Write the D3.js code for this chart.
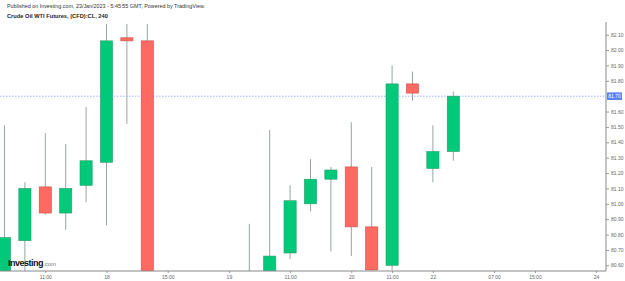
<!DOCTYPE html>
<html>
<head>
<meta charset="utf-8">
<script src="https://cdn.jsdelivr.net/npm/d3@7"></script>
<style>
  html, body { margin: 0; padding: 0; background: #fff; }
  svg { display: block; font-family: "Liberation Sans", Arial, sans-serif; }
</style>
</head>
<body>
<div id="chart"></div>
<script>
// 4h candles, slot index = position on the time axis
const slots  = [0, 1, 2, 3, 4, 5, 6, 7, 8, 9, 10, 11, 12, 13, 14, 15, 16, 17, 18, 19, 20, 21, 22];
const opens  = [80.50, 80.76, 81.11, 80.94, 81.12, 81.27, 82.08, 82.06, 80.45, 80.30, 80.20, 80.35, 80.40, 80.45, 80.68, 81.00, 81.16, 81.24, 80.85, 80.60, 81.78, 81.23, 81.34];
const highs  = [81.51, 81.14, 81.46, 81.39, 81.63, 82.17, 82.17, 82.17, 80.55, 80.50, 80.45, 80.50, 80.87, 81.48, 81.12, 81.29, 81.24, 81.53, 81.24, 81.90, 81.86, 81.51, 81.73];
const lows   = [80.40, 80.45, 80.93, 80.83, 81.01, 80.86, 81.52, 80.40, 80.20, 80.10, 80.10, 80.20, 80.35, 80.40, 80.64, 80.95, 80.69, 80.66, 80.55, 80.57, 81.67, 81.14, 81.28];
const closes = [80.78, 81.10, 80.94, 81.10, 81.28, 82.06, 82.06, 80.45, 80.30, 80.20, 80.35, 80.40, 80.45, 80.66, 81.02, 81.16, 81.22, 80.85, 80.57, 81.78, 81.72, 81.34, 81.70];

const lastPrice = 81.70;
const yTicks = [80.60, 80.70, 80.80, 80.90, 81.00, 81.10, 81.20, 81.30, 81.40, 81.50, 81.60, 81.70, 81.80, 81.90, 82.00, 82.10];
const xTickSlots  = [2, 5, 8, 11, 14, 17, 19, 21, 24, 26, 29];
const xTickLabels = ['11:00', '18', '15:00', '19', '11:00', '20', '11:00', '22', '07:00', '15:00', '24'];

const width = 625, height = 281;
const plot = { left: 0, right: 606, top: 22, bottom: 271 };

const candles = slots.map((s, i) => ({
  slot: s, open: opens[i], high: highs[i], low: lows[i], close: closes[i]
}));

const x = d3.scaleLinear().domain([0, 29]).range([4.5, 596.1]);
const y = d3.scaleLinear().domain([80.60, 82.10]).range([265.3, 34.7]);
const bodyW = 12.2;

const svg = d3.select('#chart').append('svg')
  .attr('width', width)
  .attr('height', height);

svg.append('defs').append('clipPath').attr('id', 'plotclip')
  .append('rect')
  .attr('x', plot.left).attr('y', plot.top)
  .attr('width', plot.right - plot.left)
  .attr('height', plot.bottom - plot.top);

// header
svg.append('text')
  .attr('x', 7).attr('y', 8)
  .attr('font-size', 5.4)
  .attr('fill', '#333')
  .text('Published on Investing.com, 23/Jan/2023 - 5:45:55 GMT, Powered by TradingView.');

svg.append('text')
  .attr('x', 7).attr('y', 18)
  .attr('font-size', 5.7)
  .attr('font-weight', 'bold')
  .attr('fill', '#222')
  .text('Crude Oil WTI Futures, (CFD):CL, 240');

const g = svg.append('g').attr('clip-path', 'url(#plotclip)');

// last price line
g.append('line')
  .attr('x1', plot.left).attr('x2', plot.right)
  .attr('y1', y(lastPrice)).attr('y2', y(lastPrice))
  .attr('stroke', '#9fb4f7')
  .attr('stroke-width', 1)
  .attr('stroke-dasharray', '1.5,1.5');

const up = d => d.close >= d.open;

g.selectAll('.wick')
  .data(candles)
  .join('line')
  .attr('class', 'wick')
  .attr('x1', d => x(d.slot)).attr('x2', d => x(d.slot))
  .attr('y1', d => y(d.high)).attr('y2', d => y(d.low))
  .attr('stroke', '#95a7a0')
  .attr('stroke-width', 1);

g.selectAll('.body')
  .data(candles)
  .join('rect')
  .attr('class', 'body')
  .attr('x', d => x(d.slot) - bodyW / 2)
  .attr('width', bodyW)
  .attr('y', d => y(Math.max(d.open, d.close)))
  .attr('height', d => Math.max(1.5, Math.abs(y(d.open) - y(d.close))))
  .attr('fill', d => up(d) ? '#02c87a' : '#fe6961')
  .attr('stroke', d => up(d) ? '#2a9d68' : '#c8504a')
  .attr('stroke-width', 0.6);

// right price axis (the last price tick is shown by the tag instead)
const yAxis = svg.append('g')
  .attr('transform', `translate(${plot.right},0)`)
  .call(d3.axisRight(y)
    .tickValues(yTicks.filter(v => Math.abs(v - lastPrice) > 1e-6))
    .tickFormat(d3.format('.2f')).tickSize(3).tickPadding(2));
yAxis.select('.domain').remove();
yAxis.selectAll('text').attr('font-size', 5).attr('fill', '#666');
yAxis.selectAll('line').attr('stroke', '#999');

svg.append('line')
  .attr('x1', plot.right).attr('x2', plot.right)
  .attr('y1', plot.top).attr('y2', plot.bottom)
  .attr('stroke', '#888');

// bottom time axis
const xAxis = svg.append('g')
  .attr('transform', `translate(0,${plot.bottom})`)
  .call(d3.axisBottom(x).tickValues(xTickSlots).tickFormat((d, i) => xTickLabels[i]).tickSize(2).tickPadding(2));
xAxis.select('.domain').remove();
xAxis.selectAll('text').attr('font-size', 5).attr('fill', '#666');
xAxis.selectAll('line').attr('stroke', '#999');

svg.append('line')
  .attr('x1', plot.left).attr('x2', plot.right)
  .attr('y1', plot.bottom).attr('y2', plot.bottom)
  .attr('stroke', '#888');

// last price tag
const tag = svg.append('g').attr('transform', `translate(${plot.right + 1},${y(lastPrice)})`);
tag.append('rect')
  .attr('x', 0).attr('y', -3.8)
  .attr('width', 15).attr('height', 7.6)
  .attr('fill', '#5b80f2');
tag.append('text')
  .attr('x', 7.5).attr('y', 1.8)
  .attr('text-anchor', 'middle')
  .attr('font-size', 5)
  .attr('fill', '#fff')
  .text(d3.format('.2f')(lastPrice));

// watermark
const logo = svg.append('text')
  .attr('x', 8).attr('y', 265.5)
  .attr('font-size', 9)
  .attr('font-weight', 'bold')
  .attr('letter-spacing', -0.5)
  .attr('fill', '#111');
logo.append('tspan').text('Investing');
logo.append('tspan')
  .attr('font-size', 6)
  .attr('font-weight', 'normal')
  .attr('letter-spacing', 0)
  .attr('fill', '#777')
  .text('.com');
</script>
</body>
</html>
